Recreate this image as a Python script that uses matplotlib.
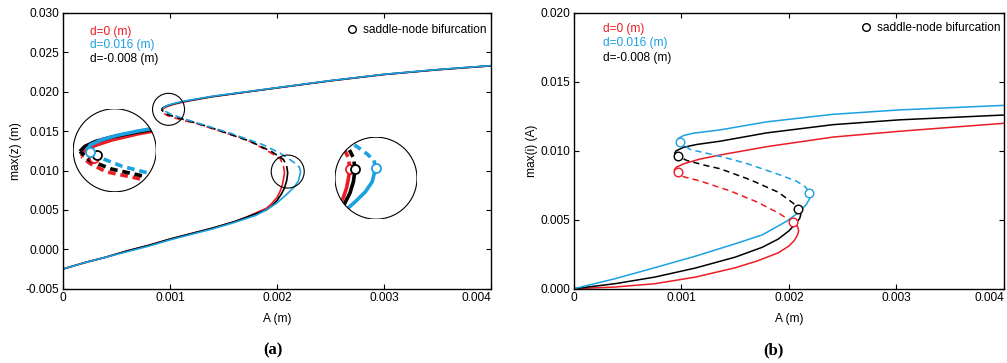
import numpy as np
import matplotlib.pyplot as plt
from matplotlib.patches import Circle, Ellipse
from matplotlib.lines import Line2D

plt.rcParams['font.family'] = ['Liberation Sans', 'DejaVu Sans']
plt.rcParams['lines.scale_dashes'] = False

RED = '#ec1c24'
BLUE = '#1ba1e2'
BLACK = '#000000'
FS = 8.6

############## panel (a): max(z) vs A ##############
# d = 0 (red): lower stable, unstable (dashed), upper stable
a_red_lo_A = [0, 0.0002, 0.0004, 0.0006, 0.0008, 0.0010, 0.0012, 0.0014, 0.0016, 0.0017, 0.0018, 0.0019, 0.00195, 0.0020, 0.00203, 0.00205, 0.00206, 0.00207]
a_red_lo_z = [-0.0025, -0.0017, -0.0010, -0.0002, 0.0005, 0.0013, 0.0020, 0.0027, 0.0035, 0.0040, 0.0046, 0.0052, 0.0058, 0.0066, 0.0074, 0.0082, 0.0089, 0.0097]
a_red_un_A = [0.00207, 0.00206, 0.00203, 0.0019, 0.00172, 0.0014, 0.00124, 0.00111, 0.00102, 0.00097, 0.00094, 0.000924]
a_red_un_z = [0.0097, 0.0106, 0.0115, 0.0126, 0.0139, 0.0153, 0.0160, 0.0164, 0.0168, 0.0170, 0.0173, 0.01755]
a_red_up_A = [0.000924, 0.00093, 0.00095, 0.00098, 0.00103, 0.0011, 0.0012, 0.0014, 0.0017, 0.0020, 0.0025, 0.0030, 0.0035, 0.0040]
a_red_up_z = [0.01755, 0.01775, 0.01796, 0.01815, 0.01838, 0.01862, 0.01890, 0.01938, 0.01994, 0.02049, 0.02139, 0.02219, 0.02279, 0.02329]
# d = -0.008 (black)
a_blk_lo_A = [0, 0.0002, 0.0004, 0.0006, 0.0008, 0.0010, 0.0012, 0.0014, 0.0016, 0.0017, 0.0018, 0.0019, 0.00195, 0.0020, 0.00204, 0.00207, 0.00209, 0.0021]
a_blk_lo_z = [-0.0025, -0.0017, -0.0010, -0.0002, 0.0005, 0.0013, 0.0020, 0.0027, 0.0035, 0.0040, 0.0045, 0.0050, 0.0055, 0.0062, 0.0070, 0.0078, 0.0087, 0.0097]
a_blk_un_A = [0.0021, 0.00209, 0.00206, 0.00195, 0.00175, 0.0015, 0.0013, 0.00115, 0.00105, 0.00098, 0.00094, 0.000921]
a_blk_un_z = [0.0097, 0.0106, 0.0114, 0.0124, 0.0137, 0.0149, 0.0158, 0.0164, 0.0168, 0.0171, 0.0174, 0.01774]
a_blk_up_A = [0.000921, 0.00093, 0.00095, 0.00098, 0.00103, 0.0011, 0.0012, 0.0014, 0.0017, 0.0020, 0.0025, 0.0030, 0.0035, 0.0040]
a_blk_up_z = [0.01774, 0.01792, 0.01810, 0.01826, 0.01845, 0.01868, 0.01893, 0.01940, 0.01995, 0.02050, 0.02140, 0.02220, 0.02280, 0.02330]
# d = 0.016 (blue)
a_blu_lo_A = [0, 0.0002, 0.0004, 0.0006, 0.0008, 0.0010, 0.0012, 0.0014, 0.0016, 0.0018, 0.0019, 0.0020, 0.0021, 0.00216, 0.0022, 0.00222]
a_blu_lo_z = [-0.0025, -0.0017, -0.0010, -0.0003, 0.0004, 0.0012, 0.0019, 0.0026, 0.0034, 0.0043, 0.0050, 0.0059, 0.0071, 0.0079, 0.0087, 0.0098]
a_blu_un_A = [0.00222, 0.00221, 0.00217, 0.00212, 0.00203, 0.00187, 0.00156, 0.00121, 0.00108, 0.00100, 0.00096, 0.000934]
a_blu_un_z = [0.0098, 0.0104, 0.0109, 0.0114, 0.0122, 0.01327, 0.01476, 0.01623, 0.0168, 0.0172, 0.0175, 0.0178]
a_blu_up_A = [0.000934, 0.00094, 0.00096, 0.00099, 0.00103, 0.0011, 0.0012, 0.0014, 0.0017, 0.0020, 0.0025, 0.0030, 0.0035, 0.0040]
a_blu_up_z = [0.01780, 0.01797, 0.01815, 0.01832, 0.01848, 0.01872, 0.01898, 0.01944, 0.01998, 0.02052, 0.02142, 0.02222, 0.02282, 0.02332]
# saddle-node points (red, black, blue), upper and lower folds
a_sn_A = [0.000948, 0.000952, 0.00094, 0.00207, 0.0021, 0.00222]
a_sn_z = [0.01750, 0.0176, 0.01771, 0.0097, 0.0097, 0.0098]
a_sn_c = [RED, BLACK, BLUE, RED, BLACK, BLUE]

a_xticks = [0, 0.001, 0.002, 0.003, 0.004]
a_xlabels = ['0', '0.001', '0.002', '0.003', '0.004']
a_yticks = [-0.005, 0, 0.005, 0.010, 0.015, 0.020, 0.025, 0.030]
a_ylabels = ['-0.005', '0.000', '0.005', '0.010', '0.015', '0.020', '0.025', '0.030']

############## panel (b): max(i) vs A ##############
b_red_lo_A = [0, 0.00038, 0.00075, 0.00113, 0.0015, 0.0017, 0.0019, 0.0020, 0.00205, 0.00208, 0.00209, 0.00208, 0.00206, 0.00204]
b_red_lo_i = [0, 0.00012, 0.00036, 0.00084, 0.00152, 0.0020, 0.0026, 0.0031, 0.0035, 0.0039, 0.0042, 0.0045, 0.0047, 0.00483]
b_red_un_A = [0.00093, 0.00095, 0.00102, 0.00117, 0.00145, 0.0017, 0.0019, 0.0020, 0.00204]
b_red_un_i = [0.00857, 0.0084, 0.00812, 0.00782, 0.0071, 0.0063, 0.0055, 0.0050, 0.00483]
b_red_up_A = [0.00093, 0.00095, 0.00102, 0.00117, 0.00136, 0.00179, 0.00241, 0.00303, 0.00400]
b_red_up_i = [0.00857, 0.0088, 0.00906, 0.0094, 0.0097, 0.0103, 0.0110, 0.01142, 0.0120]

b_blk_lo_A = [0, 0.00038, 0.00075, 0.00113, 0.0015, 0.00175, 0.0019, 0.0020, 0.00206, 0.0021, 0.00211, 0.0021, 0.00208]
b_blk_lo_i = [0, 0.00036, 0.00084, 0.0015, 0.00229, 0.0030, 0.0036, 0.0042, 0.0047, 0.0051, 0.0054, 0.0056, 0.0058]
b_blk_un_A = [0.000933, 0.00097, 0.00105, 0.00123, 0.00136, 0.00164, 0.0019, 0.00204, 0.00208]
b_blk_un_i = [0.00978, 0.00962, 0.0093, 0.00893, 0.0087, 0.0079, 0.0070, 0.0062, 0.0058]
b_blk_up_A = [0.000933, 0.00095, 0.00102, 0.00114, 0.00136, 0.00179, 0.00241, 0.00303, 0.00400]
b_blk_up_i = [0.00978, 0.0100, 0.01026, 0.01046, 0.0107, 0.0113, 0.0119, 0.01225, 0.0126]

b_blu_lo_A = [0, 0.00038, 0.00075, 0.00113, 0.0015, 0.00175, 0.00198, 0.0021, 0.00216, 0.00219, 0.0022, 0.00219]
b_blu_lo_i = [0, 0.00072, 0.00152, 0.00236, 0.00326, 0.0039, 0.0049, 0.0056, 0.0061, 0.0065, 0.0068, 0.0070]
b_blu_un_A = [0.00096, 0.00099, 0.00108, 0.00136, 0.0016, 0.0019, 0.00207, 0.00215, 0.00219]
b_blu_un_i = [0.0107, 0.01062, 0.0101, 0.0096, 0.0091, 0.0083, 0.0078, 0.0074, 0.0070]
b_blu_up_A = [0.00096, 0.00097, 0.00102, 0.00111, 0.00136, 0.00179, 0.00241, 0.00303, 0.00400]
b_blu_up_i = [0.0107, 0.0109, 0.01111, 0.01128, 0.01152, 0.0121, 0.01265, 0.01297, 0.0133]

b_sn_A = [0.000965, 0.00097, 0.00099, 0.00204, 0.00208, 0.00219]
b_sn_i = [0.00845, 0.00966, 0.01067, 0.00483, 0.0058, 0.00693]
b_sn_c = [RED, BLACK, BLUE, RED, BLACK, BLUE]

b_yticks = [0, 0.005, 0.010, 0.015, 0.020]
b_ylabels = ['0.000', '0.005', '0.010', '0.015', '0.020']

legend_labels = ['d=0 (m)', 'd=0.016 (m)', 'd=-0.008 (m)']
legend_colors = [RED, BLUE, BLACK]

# zoom circles in panel (a): small circle (data centre, radius px),
# big circle (data centre, radius px), inset window centre and magnification
zoom1 = dict(small=(0.000986, 0.01777), r_small=16, big=(0.000483, 0.01257), r_big=41.5,
             win=(0.000986, 0.01778), mag=(5.0, 3.5))
zoom2 = dict(small=(0.0021, 0.00987), r_small=16.5, big=(0.002925, 0.00903), r_big=41,
             win=(0.002222, 0.00898), mag=(1.6, 1.6))

fig = plt.figure(figsize=(10.07, 3.63), dpi=100)
ax1 = fig.add_axes([0.0626, 0.2047, 0.425, 0.7595])
ax2 = fig.add_axes([0.570, 0.2047, 0.427, 0.7595])

a_sets = [(a_red_lo_A, a_red_lo_z, a_red_un_A, a_red_un_z, a_red_up_A, a_red_up_z, RED),
          (a_blk_lo_A, a_blk_lo_z, a_blk_un_A, a_blk_un_z, a_blk_up_A, a_blk_up_z, BLACK),
          (a_blu_lo_A, a_blu_lo_z, a_blu_un_A, a_blu_un_z, a_blu_up_A, a_blu_up_z, BLUE)]
b_sets = [(b_red_lo_A, b_red_lo_i, b_red_un_A, b_red_un_i, b_red_up_A, b_red_up_i, RED),
          (b_blk_lo_A, b_blk_lo_i, b_blk_un_A, b_blk_un_i, b_blk_up_A, b_blk_up_i, BLACK),
          (b_blu_lo_A, b_blu_lo_i, b_blu_un_A, b_blu_un_i, b_blu_up_A, b_blu_up_i, BLUE)]


def draw_sets(ax, sets, lw, dash):
    lines = []
    for loA, loy, unA, uny, upA, upy, c in sets:
        lines += ax.plot(loA, loy, color=c, lw=lw, solid_capstyle='butt')
        lines += ax.plot(unA, uny, color=c, lw=lw, linestyle=(0, dash), dash_capstyle='butt')
        lines += ax.plot(upA, upy, color=c, lw=lw, solid_capstyle='butt')
    return lines


draw_sets(ax1, a_sets, 1.2, (5, 3))
draw_sets(ax2, b_sets, 1.1, (4.5, 3))
for A, y, c in zip(b_sn_A, b_sn_i, b_sn_c):
    ax2.plot(A, y, 'o', ms=6.2, mfc='white', mec=c, mew=1.0, zorder=5)

ax1.set_xlim(0, 0.004)
ax1.set_ylim(-0.005, 0.030)
ax2.set_xlim(0, 0.004)
ax2.set_ylim(0, 0.020)

# zoom circles
px_x = 0.425 * 1007 / 0.004
px_y = 0.7595 * 363 / 0.035
for zm in [zoom1, zoom2]:
    sx, sy = zm['small']
    ax1.add_patch(Ellipse((sx, sy), 2 * zm['r_small'] / px_x, 2 * zm['r_small'] / px_y,
                          fill=False, ec='k', lw=0.8, zorder=6))
    bx, by = zm['big']
    hw = zm['r_big'] / px_x
    hh = zm['r_big'] / px_y
    ins = ax1.inset_axes([bx - hw, by - hh, 2 * hw, 2 * hh], transform=ax1.transData)
    ins.axis('off')
    wx, wy = zm['win']
    mx, my = zm['mag']
    ins.set_xlim(wx - zm['r_big'] / (mx * px_x), wx + zm['r_big'] / (mx * px_x))
    ins.set_ylim(wy - zm['r_big'] / (my * px_y), wy + zm['r_big'] / (my * px_y))
    circ = Circle((0.5, 0.5), 0.5, transform=ins.transAxes, fill=False, ec='k', lw=0.8, zorder=10)
    ins.add_patch(circ)
    for ln in draw_sets(ins, a_sets, 2.6, (5.5, 3.5)):
        ln.set_clip_path(circ)
    for A, y, c in zip(a_sn_A, a_sn_z, a_sn_c):
        m, = ins.plot(A, y, 'o', ms=6.5, mfc='white', mec=c, mew=1.3, zorder=5)
        m.set_clip_path(circ)

for ax in [ax1, ax2]:
    ax.tick_params(direction='in', length=3.5, width=0.8, top=True, right=True,
                   labelsize=FS, pad=2.5)
    for s in ax.spines.values():
        s.set_linewidth(1.0)
    ax.set_xticks(a_xticks, a_xlabels)
    ax.get_xticklabels()[-1].set_horizontalalignment('right')
    ax.set_xlabel('A (m)', fontsize=FS)
    ax.xaxis.set_label_coords(0.5, -0.088)

ax1.set_yticks(a_yticks, a_ylabels)
ax2.set_yticks(b_yticks, b_ylabels)
ax1.set_ylabel('max(z) (m)', fontsize=FS)
ax1.yaxis.set_label_coords(-0.097, 0.5)
ax2.set_ylabel('max(i) (A)', fontsize=FS)
ax2.yaxis.set_label_coords(-0.084, 0.5)

# colored labels
for ax, x0, ys in [(ax1, 0.063, [0.931, 0.884, 0.833]), (ax2, 0.067, [0.942, 0.890, 0.836])]:
    for lab, c, y in zip(legend_labels, legend_colors, ys):
        ax.text(x0, y, lab, color=c, fontsize=FS, transform=ax.transAxes, va='center', ha='left')

sn_handle = Line2D([], [], marker='o', ls='none', ms=5.5, mfc='white', mec='k', mew=1.0)
ax1.legend([sn_handle], ['saddle-node bifurcation'], loc='center right', bbox_to_anchor=(0.99, 0.938),
           frameon=False, fontsize=FS, handlelength=0.8, handletextpad=0.5, borderpad=0, borderaxespad=0)
ax2.legend([sn_handle], ['saddle-node bifurcation'], loc='center right', bbox_to_anchor=(0.992, 0.946),
           frameon=False, fontsize=FS, handlelength=0.8, handletextpad=0.5, borderpad=0, borderaxespad=0)

fig.text(0.271, 0.036, '(a)', fontsize=12, fontweight='bold', family='Liberation Serif', ha='center', va='center')
fig.text(0.768, 0.036, '(b)', fontsize=12, fontweight='bold', family='Liberation Serif', ha='center', va='center')

fig.savefig('out.png', dpi=100)
